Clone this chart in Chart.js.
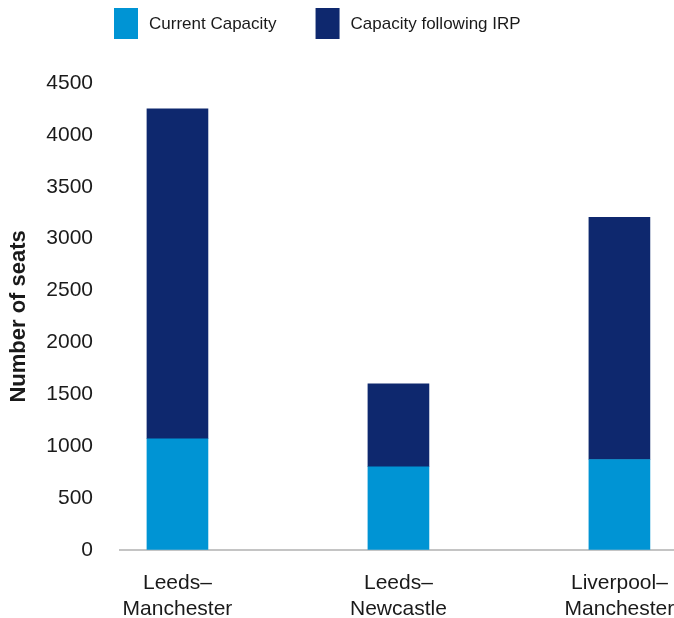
<!DOCTYPE html>
<html>
<head>
<meta charset="utf-8">
<script src="https://cdn.jsdelivr.net/npm/chart.js@4"></script>
<style>
  html, body { margin: 0; padding: 0; background: #ffffff; }
  #wrap { width: 674px; height: 618px; position: relative; }
</style>
</head>
<body>
<div id="wrap"><canvas id="c" width="674" height="618"></canvas></div>
<script>
const categories = ['Leeds–Manchester', 'Leeds–Newcastle', 'Liverpool–Manchester'];
const seriesNames = ['Current Capacity', 'Capacity following IRP'];
const currentCapacity = [1070, 800, 870];
const additionalIRP = [3180, 800, 2335];
const yTickValues = [0, 500, 1000, 1500, 2000, 2500, 3000, 3500, 4000, 4500];
const colors = ['#0094d4', '#0e286e'];
const textColor = '#1a1a1a';
const FONT = '"Liberation Sans", Arial, Helvetica, sans-serif';

function splitLabel(s) {
  const i = s.indexOf('–');
  return i >= 0 ? [s.slice(0, i + 1), s.slice(i + 1)] : [s];
}

const legendPlugin = {
  id: 'customLegend',
  afterDraw(chart) {
    const ctx = chart.ctx;
    ctx.save();
    ctx.font = '17px ' + FONT;
    ctx.textBaseline = 'middle';
    ctx.textAlign = 'left';
    let x = 114;
    const y = 8, bw = 24, bh = 31;
    chart.data.datasets.forEach((ds) => {
      ctx.fillStyle = ds.backgroundColor;
      ctx.fillRect(x, y, bw, bh);
      ctx.fillStyle = textColor;
      ctx.fillText(ds.label, x + bw + 11, y + bh / 2 + 1);
      x += bw + 11 + ctx.measureText(ds.label).width + 39;
    });
    ctx.restore();
  }
};

const datasets = [currentCapacity, additionalIRP].map((vals, k) => ({
  label: seriesNames[k],
  data: vals.map((v, i) => ({ x: i, y: v })),
  backgroundColor: colors[k],
  borderWidth: 0,
  barThickness: 61
}));

new Chart(document.getElementById('c'), {
  type: 'bar',
  data: { datasets },
  plugins: [legendPlugin],
  options: {
    responsive: false,
    animation: false,
    devicePixelRatio: 1,
    layout: { padding: { top: 83, right: 0, bottom: -25, left: 0 } },
    plugins: { legend: { display: false }, tooltip: { enabled: false } },
    scales: {
      x: {
        type: 'linear',
        stacked: true,
        offset: false,
        min: -0.26,
        max: 2.247,
        grid: { display: false, drawTicks: false, offset: false },
        border: { display: true, color: '#c4c4c4', width: 2 },
        afterFit: (scale) => { scale.paddingRight = 0; scale.paddingLeft = 0; },
        ticks: {
          stepSize: 1,
          includeBounds: false,
          autoSkip: false,
          maxRotation: 0,
          padding: 21,
          color: textColor,
          font: { family: FONT, size: 21, lineHeight: 1.22 },
          callback: (v) => Number.isInteger(v) && categories[v] ? splitLabel(categories[v]) : ''
        }
      },
      y: {
        stacked: true,
        min: yTickValues[0],
        max: yTickValues[yTickValues.length - 1],
        grid: { display: false, drawTicks: false },
        border: { display: false },
        afterFit: (scale) => { scale.width = 120; },
        ticks: {
          stepSize: yTickValues[1] - yTickValues[0],
          padding: 27,
          color: textColor,
          font: { family: FONT, size: 21 },
          callback: (v) => String(v)
        },
        title: {
          display: true,
          text: 'Number of seats',
          color: textColor,
          padding: { top: 6, bottom: 0 },
          font: { family: FONT, size: 22, weight: 'bold' }
        }
      }
    }
  }
});
</script>
</body>
</html>
